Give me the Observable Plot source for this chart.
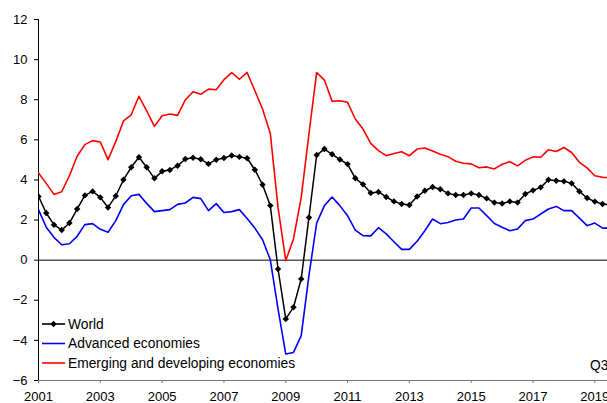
<!DOCTYPE html>
<html>
<head>
<meta charset="utf-8">
<script src="https://cdn.jsdelivr.net/npm/d3@7"></script>
<script src="https://cdn.jsdelivr.net/npm/@observablehq/plot@0.6"></script>
<style>
  html, body { margin: 0; padding: 0; background: #fff; overflow: hidden; }
  #chart { width: 607px; height: 403px; }
</style>
</head>
<body>
<div id="chart"></div>
<script>
// Quarterly series, 2001 Q1 – 2019 Q3 (% y/y)
const startYear = 2001;
const world = [3.18,2.35,1.77,1.5,1.85,2.55,3.23,3.43,3.13,2.63,3.2,4.01,4.63,5.13,4.63,4.08,4.43,4.5,4.71,5.04,5.11,5.03,4.8,5.01,5.09,5.22,5.15,5.08,4.51,3.76,2.72,-0.44,-2.93,-2.35,-0.94,2.13,5.24,5.54,5.28,5.02,4.79,4.08,3.78,3.35,3.4,3.15,2.93,2.8,2.75,3.17,3.46,3.65,3.54,3.33,3.25,3.25,3.33,3.25,3.08,2.87,2.83,2.93,2.87,3.3,3.48,3.63,4.01,3.96,3.93,3.83,3.43,3.1,2.92,2.8,2.75];
const advanced = [2.52,1.64,1.14,0.77,0.82,1.19,1.77,1.82,1.54,1.39,1.97,2.77,3.21,3.28,2.83,2.42,2.47,2.52,2.78,2.85,3.13,3.07,2.47,2.82,2.38,2.42,2.52,2.08,1.6,1.02,0.02,-2.43,-4.68,-4.6,-3.76,-0.77,1.85,2.72,3.15,2.72,2.22,1.5,1.22,1.21,1.62,1.31,0.92,0.54,0.54,0.94,1.47,2.05,1.82,1.88,2.0,2.05,2.6,2.6,2.22,1.83,1.64,1.47,1.55,1.97,2.05,2.3,2.55,2.68,2.47,2.47,2.1,1.72,1.85,1.6,1.6];
const emerging = [4.35,3.83,3.28,3.41,4.21,5.18,5.76,5.96,5.89,5.01,5.91,6.94,7.25,8.17,7.45,6.67,7.2,7.29,7.22,7.99,8.4,8.27,8.53,8.5,9.0,9.35,9.02,9.36,8.45,7.54,6.32,2.63,-0.02,1.06,3.13,6.29,9.36,8.98,7.92,7.95,7.87,7.04,6.54,5.82,5.46,5.21,5.32,5.41,5.21,5.54,5.59,5.44,5.28,5.16,4.93,4.83,4.8,4.61,4.65,4.55,4.78,4.91,4.7,4.98,5.15,5.13,5.51,5.42,5.62,5.37,4.88,4.6,4.21,4.13,4.12];
const seriesNames = ["World", "Advanced economies", "Emerging and developing economies"];
const seriesColors = ["#000000", "#0000ff", "#ff0000"];
const xTicks = [2001,2003,2005,2007,2009,2011,2013,2015,2017,2019];
const yTicks = [-6,-4,-2,0,2,4,6,8,10,12];
const lastLabel = "Q3";

const toRows = (arr) => arr.map((v, i) => ({t: startYear + i / 4, v}));
const wRows = toRows(world), aRows = toRows(advanced), eRows = toRows(emerging);

const svg = Plot.plot({
  width: 607,
  height: 403,
  marginLeft: 38,
  marginRight: 0,
  marginTop: 19,
  marginBottom: 23,
  style: {fontFamily: "'Liberation Sans', Arial, sans-serif", fontSize: "13px", color: "#000", background: "#fff", overflow: "hidden"},
  x: {domain: [2001, 2019.41]},
  y: {domain: [-6, 12]},
  marks: [
    Plot.axisY({ticks: yTicks, tickSize: 4, tickPadding: 7, label: null, stroke: "#000"}),
    Plot.axisX({ticks: xTicks, tickSize: 3, tickPadding: 8, label: null, tickFormat: d => String(d), stroke: "#777"}),
    Plot.ruleY([0], {stroke: "#000", strokeWidth: 1}),
    Plot.ruleY([-6], {stroke: "#777", strokeWidth: 1}),
    Plot.ruleX([2001], {stroke: "#000", strokeWidth: 1}),
    Plot.line(eRows, {x: "t", y: "v", stroke: seriesColors[2], strokeWidth: 1.6, clip: true}),
    Plot.line(aRows, {x: "t", y: "v", stroke: seriesColors[1], strokeWidth: 1.6, clip: true}),
    Plot.line(wRows, {x: "t", y: "v", stroke: seriesColors[0], strokeWidth: 1.5, clip: true}),
    Plot.dot(wRows, {x: "t", y: "v", symbol: "diamond2", r: 2.9, fill: seriesColors[0], stroke: "none", clip: true})
  ]
});
document.getElementById("chart").appendChild(svg);

// In-plot legend (bottom-left) and the "Q3" note
const g = d3.select(svg).append("g")
  .attr("font-family", "'Liberation Sans', Arial, sans-serif")
  .attr("font-size", 13.8)
  .attr("text-anchor", "start");
const rowY = [324, 343.5, 363];
seriesNames.forEach((name, i) => {
  const row = g.append("g").attr("transform", `translate(42,${rowY[i]})`);
  row.append("line").attr("x1", 0).attr("x2", 23).attr("stroke", seriesColors[i]).attr("stroke-width", 1.6);
  if (i === 0) row.append("path").attr("d", d3.symbol(d3.symbolDiamond2, 26)()).attr("transform", "translate(11.5,0)").attr("fill", "#000");
  row.append("text").attr("x", 26).attr("dy", "0.35em").attr("fill", "#000").attr("text-anchor", "start").text(name);
});
g.append("text").attr("x", 590).attr("y", 365).attr("dy", "0.35em").attr("fill", "#000").attr("text-anchor", "start").text(lastLabel);
</script>
</body>
</html>
